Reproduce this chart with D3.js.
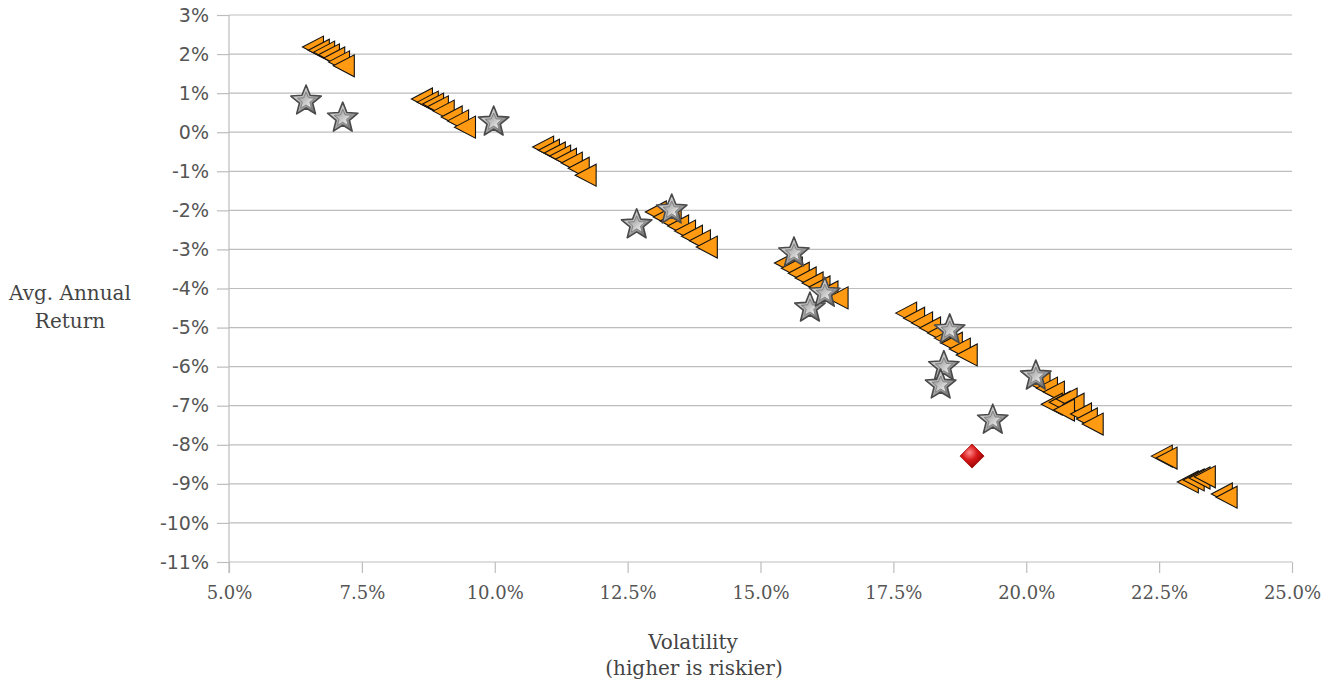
<!DOCTYPE html>
<html>
<head>
<meta charset="utf-8">
<script src="https://cdn.jsdelivr.net/npm/d3@7"></script>
<style>
  body { margin: 0; background: #fff; }
  svg { display: block; }
</style>
</head>
<body>
<div id="entry"></div>
<script>
// volatility (%), avg annual return (%)
var funds = [
  [6.58, 2.18], [6.69, 2.10], [6.79, 2.05], [6.88, 1.98], [6.98, 1.90], [7.07, 1.80], [7.16, 1.70],
  [8.63, 0.85], [8.74, 0.77], [8.84, 0.72], [8.93, 0.65], [9.04, 0.54], [9.19, 0.39], [9.31, 0.29], [9.44, 0.13],
  [10.91, -0.38], [11.02, -0.46], [11.13, -0.53], [11.23, -0.61], [11.34, -0.69], [11.45, -0.79], [11.58, -0.92], [11.71, -1.10],
  [13.03, -2.04], [13.18, -2.17], [13.31, -2.27], [13.45, -2.40], [13.58, -2.53], [13.71, -2.66], [13.86, -2.78], [13.99, -2.94],
  [15.46, -3.35], [15.59, -3.48], [15.72, -3.61], [15.85, -3.73], [15.98, -3.86], [16.11, -3.96], [16.26, -4.09], [16.45, -4.24],
  [17.74, -4.63], [17.89, -4.76], [18.04, -4.88], [18.19, -5.01], [18.34, -5.14], [18.47, -5.27], [18.60, -5.40], [18.75, -5.55], [18.88, -5.70],
  [20.25, -6.44], [20.39, -6.55], [20.52, -6.65], [20.48, -6.96], [20.63, -6.91], [20.76, -6.83], [20.89, -6.96], [20.71, -7.11], [21.03, -7.21], [21.14, -7.34], [21.25, -7.47],
  [22.55, -8.29], [22.64, -8.34], [23.04, -8.95], [23.15, -8.90], [23.26, -8.85], [23.36, -8.82], [23.68, -9.26], [23.77, -9.34]
];

var stars = [
  [6.45, 0.80], [7.14, 0.36], [9.98, 0.26], [12.67, -2.37], [13.33, -1.99],
  [15.63, -3.09], [15.93, -4.50], [16.21, -4.12], [18.56, -5.06], [18.45, -6.00],
  [18.39, -6.47], [19.37, -7.37], [20.18, -6.24]
];

var benchmark = [[18.98, -8.29]];

var xTicks = [5, 7.5, 10, 12.5, 15, 17.5, 20, 22.5, 25];
var yTicks = [3, 2, 1, 0, -1, -2, -3, -4, -5, -6, -7, -8, -9, -10, -11];

var width = 1338, height = 687;

var x = d3.scaleLinear().domain([5, 25]).range([229, 1292]);
var y = d3.scaleLinear().domain([-11, 3]).range([562, 15]);

var svg = d3.select("#entry").append("svg")
  .attr("width", width)
  .attr("height", height);

var defs = svg.append("defs");

var sg = defs.append("linearGradient").attr("id", "silver")
  .attr("x1", 0).attr("y1", 0).attr("x2", 1).attr("y2", 1);
sg.append("stop").attr("offset", "0%").attr("stop-color", "#f4f4f4");
sg.append("stop").attr("offset", "55%").attr("stop-color", "#a8a8a8");
sg.append("stop").attr("offset", "100%").attr("stop-color", "#505050");

var sg2 = defs.append("linearGradient").attr("id", "silverIn")
  .attr("x1", 1).attr("y1", 1).attr("x2", 0).attr("y2", 0);
sg2.append("stop").attr("offset", "0%").attr("stop-color", "#ffffff");
sg2.append("stop").attr("offset", "100%").attr("stop-color", "#8a8a8a");

var rg = defs.append("radialGradient").attr("id", "ruby")
  .attr("cx", "40%").attr("cy", "35%").attr("r", "70%");
rg.append("stop").attr("offset", "0%").attr("stop-color", "#ff8a8a");
rg.append("stop").attr("offset", "45%").attr("stop-color", "#d81818");
rg.append("stop").attr("offset", "100%").attr("stop-color", "#8c0000");

// horizontal gridlines
svg.append("g")
  .selectAll("line")
  .data(yTicks)
  .enter().append("line")
  .attr("x1", x(5)).attr("x2", x(25))
  .attr("y1", function(d) { return y(d); })
  .attr("y2", function(d) { return y(d); })
  .attr("stroke", "#bdbdbd").attr("stroke-width", 1.2);

var yAxis = d3.axisLeft(y)
  .tickValues(yTicks)
  .tickSize(12)
  .tickPadding(8)
  .tickFormat(function(d) { return d + "%"; });

var xAxis = d3.axisBottom(x)
  .tickValues(xTicks)
  .tickSize(11)
  .tickPadding(13)
  .tickFormat(function(d) { return d3.format(".1f")(d) + "%"; });

var gy = svg.append("g")
  .attr("transform", "translate(" + x(5) + ",0)")
  .call(yAxis);
gy.select(".domain").attr("d", "M0," + y(3) + "V" + (y(-11) + 11)).attr("stroke", "#bdbdbd").attr("stroke-width", 1.2);
gy.selectAll(".tick line").attr("stroke", "#bdbdbd").attr("stroke-width", 1.2);
gy.selectAll(".tick text")
  .attr("fill", "#555")
  .style("font-family", "'DejaVu Sans', sans-serif")
  .style("font-size", "19px");

var gx = svg.append("g")
  .attr("transform", "translate(0," + y(-11) + ")")
  .call(xAxis);
gx.select(".domain").remove();
gx.selectAll(".tick line").attr("stroke", "#bdbdbd").attr("stroke-width", 1.2);
gx.selectAll(".tick text")
  .attr("fill", "#555")
  .style("font-family", "'DejaVu Serif', serif")
  .style("font-size", "18px");

// axis titles
var title = svg.append("g")
  .style("font-family", "'DejaVu Serif', serif")
  .style("font-size", "20px")
  .attr("fill", "#444")
  .attr("text-anchor", "middle");
title.append("text").attr("x", 70).attr("y", 300).text("Avg. Annual");
title.append("text").attr("x", 70).attr("y", 328).text("Return");
title.append("text").attr("x", 693).attr("y", 649).text("Volatility");
title.append("text").attr("x", 694).attr("y", 675).text("(higher is riskier)");

// markers
var tri = "M-10.5,0L10.5,-11L10.5,11Z";

svg.append("g")
  .selectAll("path")
  .data(funds)
  .enter().append("path")
  .attr("d", tri)
  .attr("transform", function(d) { return "translate(" + x(d[0]) + "," + y(d[1]) + ")"; })
  .attr("fill", "#ff9a12")
  .attr("stroke", "#111")
  .attr("stroke-width", 1.1)
  .attr("stroke-linejoin", "miter");

function starPath(ro, ri) {
  var pts = [];
  for (var i = 0; i < 10; i++) {
    var a = -Math.PI / 2 + i * Math.PI / 5;
    var r = i % 2 === 0 ? ro : ri;
    pts.push([r * Math.cos(a), r * Math.sin(a)]);
  }
  return "M" + pts.map(function(p) { return p[0].toFixed(2) + "," + p[1].toFixed(2); }).join("L") + "Z";
}

var starG = svg.append("g")
  .selectAll("g")
  .data(stars)
  .enter().append("g")
  .attr("transform", function(d) { return "translate(" + x(d[0]) + "," + y(d[1]) + ")"; });
starG.append("path")
  .attr("d", starPath(16, 7))
  .attr("fill", "url(#silver)")
  .attr("stroke", "#4a4a4a")
  .attr("stroke-width", 1.6)
  .attr("stroke-linejoin", "round");
starG.append("path")
  .attr("d", starPath(9, 4))
  .attr("fill", "url(#silverIn)")
  .attr("stroke", "#777")
  .attr("stroke-width", 0.8);

svg.append("g")
  .selectAll("path")
  .data(benchmark)
  .enter().append("path")
  .attr("d", "M0,-12L12,0L0,12L-12,0Z")
  .attr("transform", function(d) { return "translate(" + x(d[0]) + "," + y(d[1]) + ")"; })
  .attr("fill", "url(#ruby)")
  .attr("stroke", "#a00000")
  .attr("stroke-width", 0.8);
</script>
</body>
</html>
